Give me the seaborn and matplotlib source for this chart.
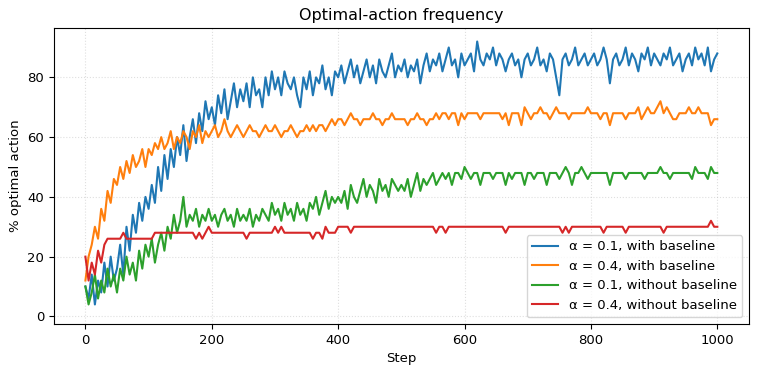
import matplotlib
matplotlib.use("Agg")
import matplotlib.pyplot as plt
import seaborn as sns
import pandas as pd

# Steps sampled every 5 steps (0..1000)
steps = list(range(0, 1001, 5))

blue_a01_base = [
    10, 6, 14, 4, 12, 8, 18, 10, 20, 12,
    16, 24, 14, 30, 22, 34, 28, 38, 32, 40,
    36, 44, 38, 50, 42, 54, 46, 56, 50, 60,
    54, 64, 52, 60, 66, 58, 68, 62, 72, 66,
    70, 64, 74, 68, 76, 66, 72, 78, 70, 76,
    72, 78, 70, 80, 74, 76, 70, 80, 74, 82,
    76, 80, 74, 82, 78, 76, 80, 74, 70, 80,
    76, 82, 74, 80, 78, 84, 76, 80, 74, 82,
    80, 84, 78, 82, 86, 80, 84, 78, 82, 86,
    80, 84, 78, 86, 82, 80, 84, 88, 80, 84,
    82, 86, 80, 84, 82, 86, 78, 84, 88, 82,
    86, 84, 88, 82, 86, 90, 84, 86, 80, 88,
    84, 86, 88, 82, 92, 86, 84, 88, 86, 90,
    84, 88, 86, 82, 86, 88, 84, 86, 80, 86,
    88, 84, 86, 90, 84, 86, 82, 88, 86, 80,
    74, 86, 88, 84, 86, 90, 84, 86, 88, 84,
    86, 88, 84, 86, 90, 86, 78, 86, 88, 84,
    86, 90, 84, 88, 86, 82, 88, 86, 90, 84,
    88, 86, 84, 88, 86, 90, 84, 86, 88, 82,
    86, 88, 84, 90, 86, 88, 84, 90, 82, 86,
    88,
]

orange_a04_base = [
    12, 20, 24, 30, 26, 36, 32, 42, 38, 46,
    44, 50, 46, 52, 48, 54, 50, 52, 56, 50,
    56, 54, 58, 56, 60, 56, 58, 62, 56, 60,
    58, 62, 60, 56, 62, 60, 64, 58, 62, 60,
    62, 64, 60, 62, 66, 62, 60, 62, 64, 62,
    60, 62, 64, 62, 62, 60, 62, 64, 62, 62,
    64, 62, 60, 62, 62, 64, 62, 60, 62, 62,
    64, 62, 64, 62, 64, 64, 62, 64, 66, 64,
    66, 66, 64, 66, 68, 66, 66, 64, 66, 66,
    66, 68, 66, 66, 64, 66, 66, 68, 66, 66,
    66, 66, 64, 66, 66, 68, 66, 66, 64, 66,
    66, 68, 66, 68, 68, 66, 68, 68, 64, 68,
    66, 68, 68, 68, 68, 66, 68, 68, 68, 68,
    68, 68, 66, 68, 64, 68, 68, 68, 64, 70,
    68, 66, 68, 68, 70, 68, 68, 66, 68, 70,
    68, 68, 68, 66, 68, 68, 68, 68, 68, 70,
    68, 68, 68, 66, 68, 68, 64, 68, 68, 68,
    68, 66, 68, 68, 68, 70, 66, 68, 70, 68,
    68, 70, 72, 68, 70, 68, 66, 66, 68, 68,
    68, 70, 68, 68, 70, 68, 68, 68, 64, 66,
    66,
]

green_a01_nobase = [
    10, 4, 8, 14, 6, 12, 8, 16, 10, 14,
    8, 16, 12, 20, 14, 18, 12, 22, 16, 24,
    20, 26, 18, 24, 28, 22, 30, 26, 34, 28,
    32, 40, 30, 34, 32, 36, 30, 34, 32, 36,
    32, 34, 30, 34, 36, 32, 34, 30, 36, 32,
    34, 32, 36, 30, 34, 32, 36, 34, 32, 38,
    34, 36, 32, 38, 34, 36, 32, 38, 34, 36,
    32, 38, 36, 40, 34, 38, 42, 36, 40, 38,
    40, 38, 42, 36, 44, 40, 38, 42, 46, 40,
    44, 42, 38, 46, 42, 44, 40, 46, 44, 42,
    44, 42, 46, 40, 44, 48, 42, 46, 44, 46,
    48, 44, 46, 48, 46, 48, 44, 48, 48, 46,
    50, 48, 46, 48, 48, 44, 48, 48, 48, 46,
    48, 48, 48, 44, 48, 46, 48, 48, 48, 44,
    48, 48, 46, 48, 48, 48, 44, 48, 48, 48,
    46, 48, 50, 48, 44, 48, 48, 50, 48, 46,
    48, 48, 48, 48, 48, 48, 44, 48, 48, 48,
    48, 46, 48, 48, 48, 48, 48, 46, 48, 48,
    48, 48, 50, 48, 48, 46, 48, 48, 48, 48,
    48, 48, 46, 50, 48, 48, 48, 46, 50, 48,
    48,
]

red_a04_nobase = [
    20, 12, 18, 14, 22, 18, 24, 26, 26, 26,
    26, 26, 28, 26, 26, 26, 26, 26, 26, 26,
    26, 26, 28, 28, 28, 28, 28, 28, 28, 28,
    28, 28, 28, 28, 28, 26, 28, 26, 28, 30,
    28, 28, 28, 28, 28, 28, 28, 28, 28, 28,
    28, 26, 28, 28, 28, 28, 28, 28, 28, 28,
    30, 28, 30, 28, 28, 28, 28, 28, 28, 28,
    28, 28, 26, 28, 28, 26, 30, 28, 28, 28,
    30, 30, 30, 30, 28, 30, 30, 30, 30, 30,
    30, 30, 30, 30, 30, 30, 30, 30, 30, 30,
    30, 30, 30, 30, 30, 30, 30, 30, 30, 30,
    30, 28, 30, 30, 28, 30, 30, 30, 30, 30,
    30, 30, 30, 30, 30, 30, 30, 30, 30, 30,
    30, 30, 30, 28, 30, 30, 30, 30, 30, 30,
    30, 30, 30, 30, 30, 30, 30, 30, 30, 30,
    30, 28, 30, 28, 30, 30, 30, 30, 30, 30,
    30, 30, 30, 30, 28, 30, 30, 30, 30, 30,
    30, 28, 30, 30, 30, 30, 30, 30, 30, 30,
    30, 30, 30, 28, 30, 30, 30, 30, 30, 30,
    30, 30, 30, 30, 30, 30, 30, 30, 32, 30,
    30,
]

labels = [
    "α = 0.1, with baseline",
    "α = 0.4, with baseline",
    "α = 0.1, without baseline",
    "α = 0.4, without baseline",
]
series = [blue_a01_base, orange_a04_base, green_a01_nobase, red_a04_nobase]

frames = []
for lab, vals in zip(labels, series):
    frames.append(pd.DataFrame({"Step": steps, "pct": vals, "run": lab}))
df = pd.concat(frames, ignore_index=True)

fig = plt.figure(figsize=(7.58, 3.74), dpi=100)
ax = fig.add_axes([0.071, 0.134, 0.917, 0.791])

palette = ["#1f77b4", "#ff7f0e", "#2ca02c", "#d62728"]
sns.lineplot(data=df, x="Step", y="pct", hue="run", hue_order=labels,
             palette=palette, linewidth=1.5, ax=ax, estimator=None)

ax.set_xlim(-50, 1050)
ax.set_ylim(-2.5, 96.5)
ax.set_xticks([0, 200, 400, 600, 800, 1000])
ax.set_yticks([0, 20, 40, 60, 80])
ax.grid(True, linestyle=":", alpha=0.4)
ax.set_title("Optimal-action frequency", fontsize=11.5)
ax.set_xlabel("Step", fontsize=9.5)
ax.set_ylabel("% optimal action", fontsize=9.5)
ax.tick_params(labelsize=9.5)
ax.legend(loc="lower right", fontsize=9.5, title=None)

fig.savefig("out.png", dpi=100)
